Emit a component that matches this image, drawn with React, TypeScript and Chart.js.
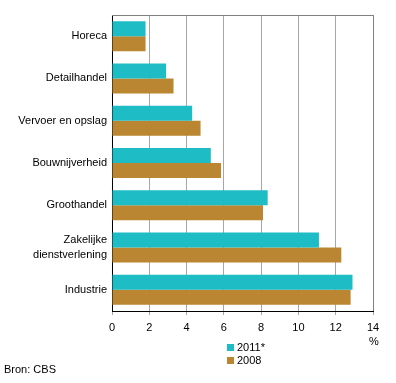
import { useEffect, useRef } from 'react';
import { Chart, registerables } from 'chart.js';

Chart.register(...registerables);

const categories: (string | string[])[] = [
  'Horeca',
  'Detailhandel',
  'Vervoer en opslag',
  'Bouwnijverheid',
  'Groothandel',
  ['Zakelijke', 'dienstverlening'],
  'Industrie',
];
const series2011 = [1.8, 2.9, 4.3, 5.3, 8.35, 11.1, 12.9];
const series2008 = [1.8, 3.3, 4.75, 5.85, 8.1, 12.3, 12.8];
const seriesNames = ['2011*', '2008'];
const colors = ['#1EBCC5', '#BA8631'];
const xMax = 14;
const xStep = 2;
const unitLabel = '%';
const sourceText = 'Bron: CBS';

const FONT = '"Liberation Sans", Arial, sans-serif';

export default function App() {
  const ref = useRef<HTMLCanvasElement | null>(null);

  useEffect(() => {
    if (!ref.current) return;
    const extras = {
      id: 'extras',
      afterDraw(chart: any) {
        const ctx = chart.ctx;
        const { left, right, top, bottom } = chart.chartArea;
        ctx.save();
        ctx.strokeStyle = '#808080';
        ctx.lineWidth = 1;
        ctx.beginPath();
        ctx.moveTo(left, Math.floor(top) + 0.5);
        ctx.lineTo(Math.round(right) + 0.5, Math.floor(top) + 0.5);
        ctx.lineTo(Math.round(right) + 0.5, bottom);
        ctx.stroke();
        ctx.font = '11px ' + FONT;
        ctx.fillStyle = '#000';
        ctx.textBaseline = 'middle';
        ctx.textAlign = 'center';
        ctx.fillText(unitLabel, right + 1, bottom + 31);
        // legend
        const lx = left + 115;
        seriesNames.forEach((name, i) => {
          const y = bottom + 33 + i * 13;
          ctx.fillStyle = colors[i];
          ctx.fillRect(lx, y, 7, 7);
          ctx.fillStyle = '#000';
          ctx.textAlign = 'left';
          ctx.fillText(name, lx + 10, y + 4);
        });
        ctx.textAlign = 'left';
        ctx.fillText(sourceText, 4, bottom + 59);
        ctx.restore();
      },
    };

    const chart = new Chart(ref.current, {
      type: 'bar',
      data: {
        labels: categories,
        datasets: [
          { label: seriesNames[0], data: series2011, backgroundColor: colors[0] },
          { label: seriesNames[1], data: series2008, backgroundColor: colors[1] },
        ],
      },
      options: {
        indexAxis: 'y',
        responsive: false,
        animation: false,
        devicePixelRatio: 1,
        layout: { padding: { top: 15, right: 23, left: 0, bottom: 0 } },
        datasets: { bar: { categoryPercentage: 0.71, barPercentage: 1 } },
        plugins: { legend: { display: false }, tooltip: { enabled: false } },
        scales: {
          x: {
            min: 0,
            max: xMax,
            ticks: { stepSize: xStep, color: '#000', font: { family: FONT, size: 11 }, padding: 6 },
            grid: { color: '#A6A6A6', tickLength: 4, tickColor: '#A6A6A6' },
            border: { color: '#000' },
            afterFit(scale: any) {
              scale.height = 72;
            },
          },
          y: {
            ticks: { color: '#000', font: { family: FONT, size: 11, lineHeight: 1.35 }, padding: 5 },
            grid: { display: false, drawTicks: false, tickLength: 0 },
            border: { color: '#000' },
            afterFit(scale: any) {
              scale.width = 112;
            },
          },
        },
      },
      plugins: [extras],
    });
    return () => chart.destroy();
  }, []);

  return (
    <canvas
      ref={ref}
      width={396}
      height={383}
      style={{ position: 'absolute', left: 0, top: 0, width: 396, height: 383 }}
    />
  );
}
